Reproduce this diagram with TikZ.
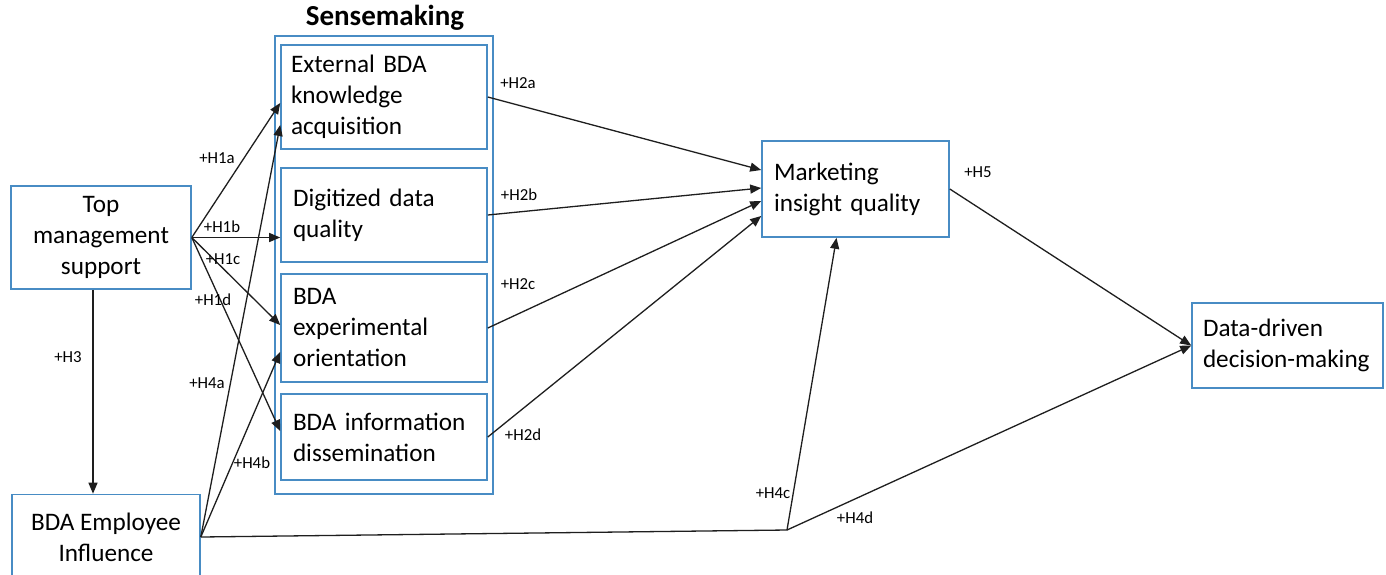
\documentclass[tikz,border=0pt]{standalone}
\usepackage{fontspec}
\setmainfont{Carlito}
\usetikzlibrary{arrows.meta,calc}
\definecolor{boxblue}{RGB}{72,140,196}
\definecolor{lineclr}{RGB}{30,30,30}
\begin{document}
\begin{tikzpicture}[x=0.5pt,y=-0.5pt,
  box/.style={draw=boxblue, line width=0.8pt, inner sep=0pt,
    font=\fontsize{12.6}{15.5}\selectfont},
  cbox/.style={box, align=center},
  lbox/.style={box, align=left, inner xsep=#1},
  lab/.style={font=\fontsize{8.4}{9}\selectfont, inner sep=0pt},
  arr/.style={draw=lineclr, line width=0.65pt, -{Triangle[length=5.5pt,width=4.5pt]}},
  plain/.style={draw=lineclr, line width=0.65pt}]
\useasboundingbox (0,0) rectangle (1386,574);
\fill[white] (0,0) rectangle (1386,574);
\clip (0,0) rectangle (1386,574);

% nodes
\node[cbox, minimum width=90pt, minimum height=51.5pt] (tms) at (101,237.5) {Top\\management\\support};
\node[cbox, minimum width=94pt, minimum height=42.5pt] (emp) at (106,537) {BDA Employee\\Influence};

\node[box, minimum width=109pt, minimum height=229pt] (sense) at (384,265) {};
\node[font=\bfseries\fontsize{14.5}{16}\selectfont, inner sep=0pt] (title) at (385,18) {Sensemaking};

\node[lbox=5pt, minimum width=103pt, minimum height=52pt, text width=93pt] (ext) at (384,97) {External BDA\\knowledge\\acquisition};
\node[lbox=6pt, minimum width=103pt, minimum height=47pt, text width=91pt] (dig) at (384,215) {Digitized data\\quality};
\node[lbox=6pt, minimum width=103pt, minimum height=54pt, text width=91pt] (exp) at (384,328) {BDA\\experimental\\orientation};
\node[lbox=6pt, minimum width=103pt, minimum height=43pt, text width=91pt] (dis) at (384,437) {BDA information\\dissemination};

\node[lbox=6pt, minimum width=93.5pt, minimum height=48pt, text width=81.5pt] (mkt) at (855.5,189) {Marketing\\insight quality};
\node[lbox=5.5pt, minimum width=95.5pt, minimum height=42.5pt, text width=84.5pt] (ddm) at (1287.5,345.5) {Data-driven\\decision-making};

% H3
\draw[arr] ($(tms.south)+(-8,0)$) coordinate (h3a) -- (h3a |- emp.north);

% H1
\draw[arr] (tms.east) -- ($(ext.west)+(0,6)$);
\draw[arr] (tms.east) -- (tms.east -| dig.west);
\draw[arr] (tms.east) -- ($(exp.west)+(0,-3)$);
\draw[arr] (tms.east) -- ($(dis.west)+(0,-6)$);

% H4a, H4b
\draw[arr] (emp.east) -- ($(ext.west)+(0,28)$);
\draw[arr] (emp.east) -- ($(exp.west)+(0,24)$);

% H2
\draw[arr] (ext.east) -- ($(mkt.west)+(0,-19)$);
\draw[arr] (dig.east) -- ($(mkt.west)+(0,-1)$);
\draw[arr] (exp.east) -- ($(mkt.west)+(0,12)$);
\draw[arr] (dis.east) -- ($(mkt.west)+(0,27)$);

% H5
\draw[arr] (mkt.east) -- (ddm.west);

% H4c, H4d
\coordinate (j) at (787,530);
\draw[plain] (emp.east) -- (j);
\draw[arr] (j) -- ($(mkt.south)+(-19,0)$);
\draw[arr] (j) -- (ddm.west);

% labels
\node[lab] (l1a) at (217,158) {+H1a};
\node[lab] (l1b) at (222,227) {+H1b};
\node[lab] (l1c) at (223,259) {+H1c};
\node[lab] (l1d) at (213,300) {+H1d};
\node[lab] (l3) at (68,357) {+H3};
\node[lab] (l4a) at (207,383) {+H4a};
\node[lab] (l4b) at (252,463) {+H4b};
\node[lab] (l2a) at (518,83) {+H2a};
\node[lab] (l2b) at (519,195) {+H2b};
\node[lab] (l2c) at (518,284) {+H2c};
\node[lab] (l2d) at (523,435) {+H2d};
\node[lab] (l5) at (978,172) {+H5};
\node[lab] (l4c) at (773,493) {+H4c};
\node[lab] (l4d) at (855,518) {+H4d};
\end{tikzpicture}
\end{document}
